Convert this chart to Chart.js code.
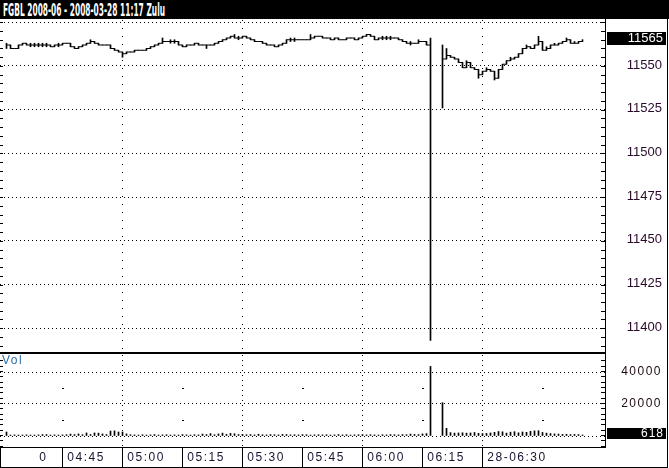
<!DOCTYPE html>
<html><head><meta charset="utf-8">
<script src="https://cdn.jsdelivr.net/npm/chart.js@4.4.1/dist/chart.umd.min.js"></script>
<style>
html,body{margin:0;padding:0;background:#fff;}
#wrap{position:relative;width:669px;height:468px;overflow:hidden;background:#fff;}
#title{position:absolute;left:0;top:0;width:669px;height:19px;background:#000;overflow:hidden;}
#titleText{position:absolute;left:3px;top:0;color:#fff;font-family:"DejaVu Sans Condensed","DejaVu Sans",sans-serif;font-stretch:condensed;font-weight:bold;font-size:18px;line-height:19px;white-space:nowrap;transform-origin:0 0;}
#price{position:absolute;left:0;top:0;width:669px;height:354px;}
#vol{position:absolute;left:0;top:354px;width:669px;height:114px;}
</style></head><body>
<div id="wrap">
<canvas id="price" width="669" height="354"></canvas>
<canvas id="vol" width="669" height="114"></canvas>
<div id="title"><span id="titleText">FGBL 2008-06 - 2008-03-28 11:17 Zulu</span></div>
</div>
<script>
// minute index 0 = 04:30 (one bar per minute)
const closes = [null,
11562,11560,11560,11562,11563,11562,11562,11562,11562,11562,
11562,11561,11562,11562,11563,11563,11561,11560,11561,11562,
11563,11564,11563,11562,11562,11562,11560,11559,11558,11557,
11558,11558,11559,11559,11559,11560,11561,11562,11563,11564,
11564,11564,11564,11562,11561,11562,11562,11563,11562,11562,
11562,11562,11563,11564,11565,11566,11567,11566,11566,11567,
11566,11565,11564,11564,11563,11562,11562,11561,11562,11563,
11565,11565,11565,11565,11565,11565,11566,11567,11567,11566,
11566,11565,11566,11565,11565,11566,11566,11565,11566,11567,
11568,11567,11565,11566,11566,11566,11566,11566,11565,11564,
11563,11563,11563,11564,11564,11562,11394,null,null,11554,
11556,11555,11554,11552,11549,11552,11549,11548,11545,11547,
11548,11547,11543,11548,11551,11553,11554,11555,11557,11560,
11561,11560,11562,11564,11559,11560,11562,11562,11563,11564,
11565,11563,11563,11564,11565];

const highs = [null,
11563,11562,11560,11562,11563,11563,11563,11563,11563,11563,
11563,11562,11562,11563,11563,11563,11563,11561,11561,11562,
11563,11565,11564,11563,11562,11562,11562,11560,11559,11558,
11558,11558,11559,11559,11559,11560,11561,11562,11563,11566,
11564,11565,11565,11564,11562,11562,11562,11563,11563,11562,
11562,11562,11563,11564,11565,11566,11567,11568,11567,11567,
11567,11566,11565,11564,11564,11563,11562,11562,11562,11563,
11565,11566,11566,11565,11565,11565,11568,11567,11567,11567,
11566,11566,11566,11566,11565,11566,11566,11566,11566,11567,
11568,11568,11567,11566,11567,11567,11567,11566,11566,11565,
11564,11564,11563,11565,11564,11564,11566,null,null,11562,
11560,11556,11555,11554,11552,11553,11552,11549,11548,11547,
11549,11548,11547,11548,11551,11553,11555,11555,11557,11560,
11562,11561,11562,11567,11564,11561,11562,11563,11563,11564,
11566,11565,11564,11564,11565];

const lows = [null,
11560,11560,11560,11560,11562,11562,11561,11561,11561,11561,
11561,11561,11561,11561,11562,11563,11561,11560,11560,11561,
11562,11563,11563,11562,11562,11562,11560,11559,11558,11555,
11557,11558,11558,11559,11559,11559,11560,11561,11562,11563,
11564,11563,11563,11562,11561,11561,11562,11562,11562,11562,
11560,11562,11562,11563,11564,11565,11566,11566,11565,11566,
11566,11565,11564,11564,11563,11562,11562,11561,11561,11562,
11563,11564,11564,11565,11565,11565,11565,11566,11567,11566,
11566,11565,11565,11565,11565,11565,11566,11565,11565,11566,
11567,11567,11565,11565,11565,11565,11565,11566,11565,11564,
11563,11562,11563,11563,11564,11562,11393,null,null,11526,
11554,11555,11554,11552,11549,11549,11549,11548,11543,11545,
11547,11547,11542,11543,11548,11551,11553,11554,11555,11557,
11560,11560,11560,11562,11559,11559,11560,11562,11562,11563,
11564,11563,11563,11563,11564];

const volumes = [null,
2500,600,700,600,600,700,600,600,700,900,
900,600,700,600,700,800,1200,900,1300,800,
1900,900,1900,1800,1300,900,3100,3200,2500,2500,
1300,800,700,600,800,600,700,900,600,700,
800,600,700,600,900,700,600,800,700,1200,
900,1500,800,1300,1800,1000,1600,1400,900,1000,
800,900,700,1100,800,700,900,800,700,1000,
900,700,800,700,900,800,600,700,800,700,
800,600,700,900,700,800,600,700,800,900,
700,800,700,600,800,700,900,800,700,900,
800,1200,1000,900,1300,1500,43500,null,null,20800,
4800,2100,1800,1900,2000,1800,1900,2200,1700,1500,
1600,1900,2300,2800,2600,1800,2400,2700,2000,2500,
2300,2900,3200,3300,2200,1800,1500,1300,1200,1000,
1100,900,1000,900,618];

const xTickMinutes = [8, 15, 30, 45, 60, 75, 90, 105, 120];
const xTickLabels = ["0", "04:45", "05:00", "05:15", "05:30", "05:45", "06:00", "06:15", "28-06:30"];
const xGridMinutes = [30, 60, 90, 120];
const priceTicks = [11400, 11425, 11450, 11475, 11500, 11525, 11550];
const priceTopGrid = 11575;
const volTicks = [20000, 40000];
const titleText = "FGBL 2008-06 - 2008-03-28 11:17 Zulu";

// ---- title (condensed) ----
const ts = document.getElementById('titleText');
ts.textContent = titleText;
const tw = ts.getBoundingClientRect().width;
ts.style.transform = 'scaleX(' + (162 / tw) + ')';

Chart.defaults.font.family = '"Liberation Sans", Arial, sans-serif';
Chart.defaults.animation = false;

const X_MIN = -0.625, X_MAX = 150.625;
const TRANSPARENT = 'rgba(0,0,0,0)';
function noPad(s) { s.paddingTop = 0; s.paddingBottom = 0; s.paddingLeft = 0; s.paddingRight = 0; }

const pricePlugin = {
  id: 'priceDeco',
  afterDraw(chart) {
    const {ctx} = chart; const y = chart.scales.y;
    ctx.save();
    ctx.fillStyle = '#000';
    ctx.fillRect(0, 352, 606, 2);
    ctx.fillRect(605, 19, 1, 335);
    ctx.fillRect(667, 19, 1, 335);
    for (let v = 11390; v <= 11575; v += 5) {
      const py = Math.round(y.getPixelForValue(v));
      if (py < 20 || py > 351) continue;
      ctx.fillRect(601, py, 4, 1);
      ctx.fillRect(0, py, 3, 1);
    }
    const last = closes[closes.length - 1];
    const ly = y.getPixelForValue(last);
    ctx.fillRect(607, Math.round(ly - 8), 59, 13);
    ctx.fillStyle = '#fff';
    ctx.font = '13px "Liberation Sans", Arial, sans-serif';
    ctx.textAlign = 'right'; ctx.textBaseline = 'middle';
    ctx.fillText(String(last), 663, ly - 1.5);
    ctx.restore();
  }
};

new Chart(document.getElementById('price'), {
  type: 'bar',
  data: {
    datasets: [
      {
        type: 'line',
        data: closes.map((c, i) => ({x: i, y: c})),
        stepped: 'before',
        borderColor: '#000', borderWidth: 1,
        pointRadius: 0, spanGaps: false, fill: false
      },
      {
        type: 'bar',
        data: highs.map((h, i) => h == null ? null : {x: i, y: [lows[i], h]}).filter(d => d),
        backgroundColor: '#000', borderWidth: 0,
        barThickness: 1
      }
    ]
  },
  options: {
    responsive: false,
    animation: false,
    events: [],
    layout: {padding: {top: 20, right: 7, bottom: 2, left: 0}},
    plugins: {legend: {display: false}, tooltip: {enabled: false}},
    scales: {
      x: {
        type: 'linear', min: X_MIN, max: X_MAX, offset: false,
        afterBuildTicks: s => { s.ticks = xGridMinutes.map(v => ({value: v})); },
        ticks: {display: false},
        grid: {color: '#000', lineWidth: 1, drawTicks: false, offset: false},
        border: {display: false, dash: [1, 7]},
        afterFit: s => { s.height = 0; noPad(s); }
      },
      y: {
        type: 'linear', position: 'right', min: 11386.4, max: 11576.3,
        afterBuildTicks: s => { s.ticks = priceTicks.concat([priceTopGrid]).map(v => ({value: v})); },
        ticks: {
          callback: v => priceTicks.includes(v) ? String(v) : '',
          crossAlign: 'far', color: '#2a0a2a', labelOffset: -1,
          font: {size: 13}, autoSkip: false
        },
        grid: {color: '#000', lineWidth: 1, drawTicks: false},
        border: {display: false, dash: [1, 3]},
        afterFit: s => { s.width = 57; noPad(s); }
      }
    }
  },
  plugins: [pricePlugin]
});

const volPlugin = {
  id: 'volDeco',
  beforeDraw(chart) { chart.ctx.letterSpacing = '1.5px'; },
  afterDraw(chart) {
    const {ctx} = chart; const y = chart.scales.y; const x = chart.scales.x;
    ctx.save();
    ctx.letterSpacing = '0px';
    ctx.fillStyle = '#000';
    ctx.fillRect(605, 0, 1, 93);
    ctx.fillRect(667, 0, 1, 114);
    ctx.fillRect(0, 93, 606, 1);
    ctx.fillRect(0, 113, 668, 1);
    ctx.fillRect(0, 93, 1, 21);
    for (let v = -6000; v <= 50000; v += 20000 / 6) {
      const py = Math.round(y.getPixelForValue(v));
      if (py < 1 || py > 92) continue;
      ctx.fillRect(601, py, 4, 1);
      ctx.fillRect(0, py, 3, 1);
    }
    [15, 45, 75, 105, 135].forEach(m => {
      [30000, 10000].forEach(v => {
        ctx.fillRect(Math.round(x.getPixelForValue(m)) - 1, Math.round(y.getPixelForValue(v)), 2, 1);
      });
    });
    const lastV = volumes[volumes.length - 1];
    const ly = y.getPixelForValue(lastV);
    ctx.fillRect(607, Math.round(ly - 7), 59, 11);
    ctx.fillStyle = '#fff';
    ctx.font = '12px "Liberation Sans", Arial, sans-serif';
    ctx.letterSpacing = '1px';
    ctx.textAlign = 'right'; ctx.textBaseline = 'middle';
    ctx.fillText(String(lastV), 664, ly - 1.5);
    ctx.fillStyle = '#2c6ea8';
    ctx.font = '12px "Liberation Sans", Arial, sans-serif';
    ctx.letterSpacing = '1.5px';
    ctx.textAlign = 'left'; ctx.textBaseline = 'top';
    ctx.fillText('Vol', 2, 1);
    ctx.restore();
  }
};

new Chart(document.getElementById('vol'), {
  type: 'bar',
  data: {
    datasets: [{
      data: volumes.map((v, i) => v == null ? null : {x: i, y: v}).filter(d => d),
      backgroundColor: '#000', borderWidth: 0, barThickness: 1
    }]
  },
  options: {
    responsive: false,
    animation: false,
    events: [],
    layout: {padding: {top: 1, right: 7, bottom: 1, left: 0}},
    plugins: {legend: {display: false}, tooltip: {enabled: false}},
    scales: {
      x: {
        type: 'linear', min: X_MIN, max: X_MAX, offset: false,
        afterBuildTicks: s => { s.ticks = xTickMinutes.map(v => ({value: v})); },
        ticks: {
          callback: v => { const k = xTickMinutes.indexOf(v); return k < 0 ? '' : ' ' + xTickLabels[k]; },
          align: 'start', autoSkip: false, maxRotation: 0, minRotation: 0,
          padding: -17, color: '#141430', font: {size: 12}
        },
        grid: {
          offset: false, drawTicks: true, tickLength: 20, lineWidth: 1,
          color: c => (c.tick && xGridMinutes.includes(c.tick.value)) ? '#000' : TRANSPARENT,
          tickColor: c => (c.tick && c.tick.value === xTickMinutes[0]) ? TRANSPARENT : '#000'
        },
        border: {display: false, dash: [1, 4]},
        afterFit: s => { s.height = 20; noPad(s); }
      },
      y: {
        type: 'linear', position: 'right', min: -6875, max: 50625,
        afterBuildTicks: s => { s.ticks = [0].concat(volTicks).map(v => ({value: v})); },
        ticks: {
          callback: v => volTicks.includes(v) ? String(v) : '',
          crossAlign: 'far', color: '#1e0a14', font: {size: 12}, autoSkip: false
        },
        grid: {color: '#000', lineWidth: 1, drawTicks: false},
        border: {display: false, dash: [1, 3]},
        afterFit: s => { s.width = 57; noPad(s); }
      }
    }
  },
  plugins: [volPlugin]
});
</script>
</body></html>
